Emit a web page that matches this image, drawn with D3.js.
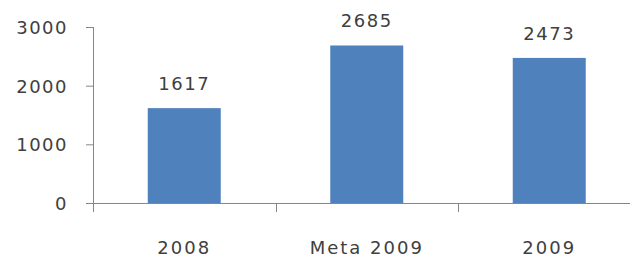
<!DOCTYPE html>
<head>
<meta charset="utf-8">
<style>
body { margin: 0; background: #fff; }
text { font-family: "DejaVu Sans", sans-serif; font-size: 18px; fill: #404040; letter-spacing: 1.5px; }
text.cat { letter-spacing: 2px; }
.axis path, .axis line { stroke: #868686; stroke-width: 1px; }
.bar { fill: #4f81bd; }
</style>
<script src="https://d3js.org/d3.v7.min.js"></script>
</head>
<body>
<svg class="chart" width="630" height="258"></svg>
<script>

// Values.
var categories = ["2008", "Meta 2009", "2009"];
var values = [1617, 2685, 2473];
var yTicks = [0, 1000, 2000, 3000];

var svg = d3.select(".chart"),
  margin = {top: 27, left: 93},
  plotWidth = 547.5,
  plotHeight = 176;

var g = svg.append("g").attr("transform", "translate(" + margin.left + "," + margin.top + ")");

var x = d3.scaleBand().domain(categories).range([0, plotWidth]).paddingInner(0.6).paddingOuter(0.3);
var y = d3.scaleLinear().domain([0, 3000]).range([plotHeight, 0]);

// Vertical axis with the values.
var yAxis = g.append("g")
  .attr("class", "axis")
  .call(d3.axisLeft(y).tickValues(yTicks).tickFormat(d3.format("d")).tickSize(7).tickPadding(18).tickSizeOuter(0));
yAxis.selectAll("text").style("font-size", "18px").style("font-family", "DejaVu Sans").attr("fill", "#404040").attr("dy", "0.36em");
yAxis.select(".domain").attr("d", "M0.5,0V" + (plotHeight + 9));

// Horizontal axis line, with ticks between the categories.
var xAxis = g.append("g").attr("class", "axis").attr("transform", "translate(0," + plotHeight + ")");
xAxis.append("line").attr("x1", 0).attr("x2", plotWidth).attr("y1", 0.5).attr("y2", 0.5);
xAxis.selectAll(".sep")
  .data(categories.slice(1))
  .enter().append("line")
  .attr("x1", function(d) { return Math.round(x(d) - x.step() * 0.3) + 0.5; })
  .attr("x2", function(d) { return Math.round(x(d) - x.step() * 0.3) + 0.5; })
  .attr("y1", 0).attr("y2", 9);
xAxis.selectAll(".cat")
  .data(categories)
  .enter().append("text")
  .attr("class", "cat")
  .attr("x", function(d) { return x(d) + x.bandwidth() / 2; })
  .attr("y", 51)
  .attr("text-anchor", "middle")
  .text(function(d) { return d; });

// The bars.
g.selectAll(".bar")
  .data(values)
  .enter().append("rect")
  .attr("class", "bar")
  .attr("x", function(d, i) { return x(categories[i]); })
  .attr("width", x.bandwidth())
  .attr("y", function(d) { return y(d); })
  .attr("height", function(d) { return plotHeight - y(d); });

// Value labels above the bars.
g.selectAll(".label")
  .data(values)
  .enter().append("text")
  .attr("x", function(d, i) { return x(categories[i]) + x.bandwidth() / 2; })
  .attr("y", function(d) { return y(d) - 18; })
  .attr("text-anchor", "middle")
  .text(function(d) { return d; });

</script>
</body>
